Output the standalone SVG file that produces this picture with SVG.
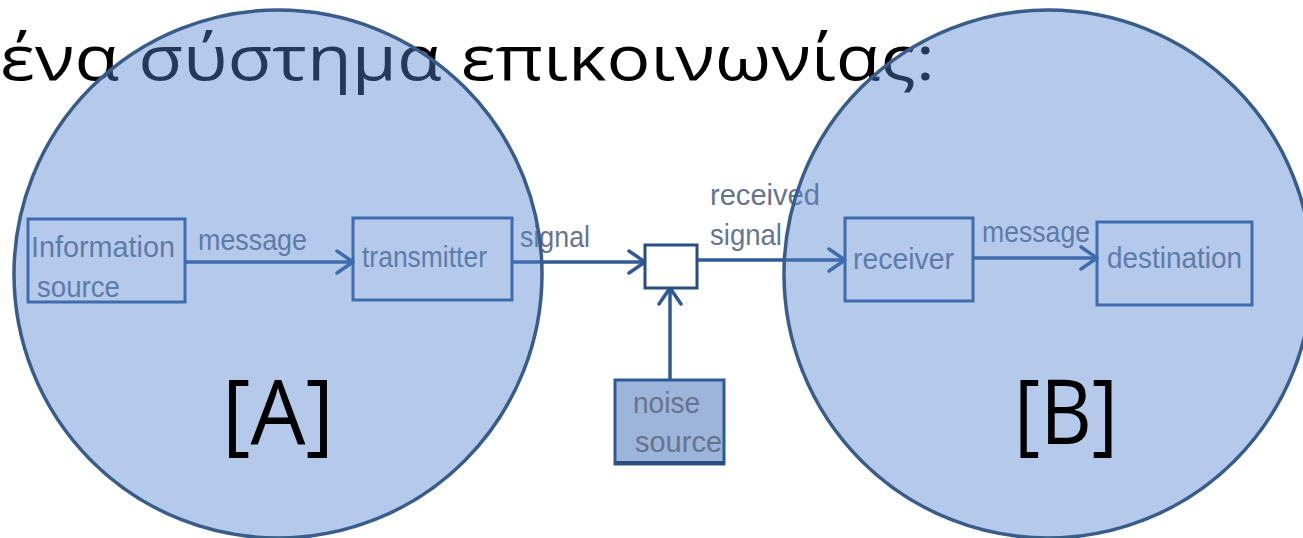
<svg xmlns="http://www.w3.org/2000/svg" width="1303" height="538" viewBox="0 0 1303 538">
  <style>
    .title { font-family: "Open Sans", "Noto Sans", sans-serif; font-size: 62px; fill: #000000; }
    .box { fill: none; stroke: #2F5A96; stroke-width: 3; }
    .lbl { font-family: "Liberation Sans", Arial, sans-serif; font-size: 29px; fill: #66748C; }
    .conn { stroke: #2F5A96; stroke-width: 3.5; fill: none; }
    .zone { fill: rgb(83,133,207); fill-opacity: 0.43; stroke: #385D8A; stroke-width: 3.5; }
    .big { font-family: "Open Sans", "Noto Sans", sans-serif; font-size: 90px; fill: #000000; }
  </style>
  <defs>
    <marker id="chev" viewBox="0 0 20 26" refX="18" refY="13" markerWidth="20" markerHeight="26" markerUnits="userSpaceOnUse" orient="auto">
      <path d="M2,2 L18,13 L2,24" fill="none" stroke="#2F5A96" stroke-width="3.5" stroke-linecap="round" stroke-linejoin="round"/>
    </marker>
  </defs>
  <rect x="0" y="0" width="1303" height="538" fill="#FFFFFF"/>

  <text class="title" x="0" y="80" textLength="935" lengthAdjust="spacingAndGlyphs">ένα σύστημα επικοινωνίας:</text>

  <g id="connectors">
    <line class="conn" x1="186" y1="262" x2="353" y2="262" marker-end="url(#chev)"/>
    <line class="conn" x1="512" y1="262" x2="645" y2="262" marker-end="url(#chev)"/>
    <line class="conn" x1="697" y1="260" x2="845" y2="260" marker-end="url(#chev)"/>
    <line class="conn" x1="973" y1="258" x2="1097" y2="258" marker-end="url(#chev)"/>
    <line class="conn" x1="670" y1="380" x2="670" y2="288" marker-end="url(#chev)"/>
    <text class="lbl" x="198" y="250" textLength="109" lengthAdjust="spacingAndGlyphs">message</text>
    <text class="lbl" x="520" y="247" textLength="70" lengthAdjust="spacingAndGlyphs">signal</text>
    <text class="lbl" x="710" y="205" textLength="110" lengthAdjust="spacingAndGlyphs">received</text>
    <text class="lbl" x="710" y="245" textLength="72" lengthAdjust="spacingAndGlyphs">signal</text>
    <text class="lbl" x="982" y="242" textLength="108" lengthAdjust="spacingAndGlyphs">message</text>
  </g>

  <g id="node-information-source">
    <rect class="box" x="28" y="219" width="157" height="83"/>
    <text class="lbl" x="31" y="257" textLength="144" lengthAdjust="spacingAndGlyphs">Information</text>
    <text class="lbl" x="37" y="297" textLength="83" lengthAdjust="spacingAndGlyphs">source</text>
  </g>
  <g id="node-transmitter">
    <rect class="box" x="353" y="218" width="159" height="82"/>
    <text class="lbl" x="362" y="267" textLength="125" lengthAdjust="spacingAndGlyphs">transmitter</text>
  </g>
  <g id="node-channel">
    <rect x="645" y="245" width="52" height="43" fill="#FFFFFF" stroke="#2B4C80" stroke-width="3"/>
  </g>
  <g id="node-noise-source">
    <rect x="615" y="380" width="109" height="84" fill="#9DB5DA" stroke="#2F5A96" stroke-width="3"/>
    <line x1="615" y1="463" x2="724" y2="463" stroke="#2B4C80" stroke-width="4"/>
    <text class="lbl" x="633" y="413" textLength="67" lengthAdjust="spacingAndGlyphs">noise</text>
    <text class="lbl" x="635" y="452" textLength="87" lengthAdjust="spacingAndGlyphs">source</text>
  </g>
  <g id="node-receiver">
    <rect class="box" x="845" y="218" width="128" height="83"/>
    <text class="lbl" x="853" y="269" textLength="101" lengthAdjust="spacingAndGlyphs">receiver</text>
  </g>
  <g id="node-destination">
    <rect class="box" x="1097" y="222" width="155" height="83"/>
    <text class="lbl" x="1107" y="268" textLength="135" lengthAdjust="spacingAndGlyphs">destination</text>
  </g>

  <g id="zone-a">
    <circle class="zone" cx="278" cy="274" r="264"/>
    <text class="big" x="222" y="444" textLength="112" lengthAdjust="spacingAndGlyphs">[A]</text>
  </g>
  <g id="zone-b">
    <circle class="zone" cx="1048" cy="274" r="264"/>
    <text class="big" x="1014" y="444" textLength="104" lengthAdjust="spacingAndGlyphs">[B]</text>
  </g>
</svg>
